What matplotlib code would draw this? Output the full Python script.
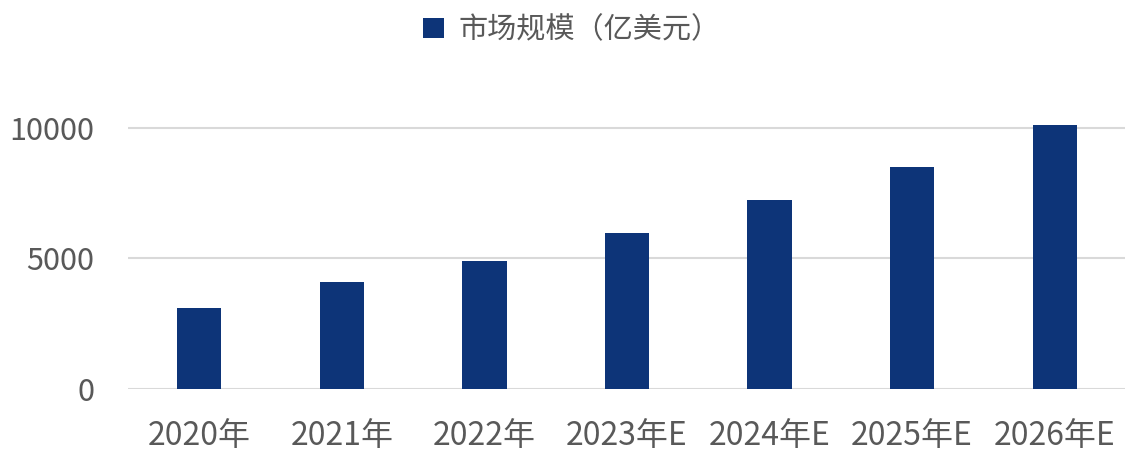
import numpy as np
import matplotlib
matplotlib.use("Agg")
from matplotlib import pyplot as plt

categories = ['2020年', '2021年', '2022年', '2023年E', '2024年E', '2025年E', '2026年E']
market_size = [3090, 4100, 4890, 5960, 7220, 8510, 10110]
series_name = '市场规模（亿美元）'
y_ticks = [0, 5000, 10000]

plt.rcParams['font.family'] = ['Noto Sans CJK SC', 'DejaVu Sans']
text_color = '#595959'
bar_color = '#0d3478'

fig = plt.figure(figsize=(11.25, 4.58), dpi=100)
ax = fig.add_axes([128 / 1125, 0.15, (1126 - 128) / 1125, 0.6284])

x = np.arange(len(categories))
ax.bar(x, market_size, width=0.31, color=bar_color, label=series_name, zorder=3)

ax.set_xlim(-0.5, len(categories) - 0.5)
ax.set_ylim(0, 11000)
ax.set_yticks(y_ticks)
ax.set_yticklabels([str(v) for v in y_ticks])
ax.set_xticks(x)
ax.set_xticklabels(categories)
ax.grid(axis='y', color='#d9d9d9', linewidth=1.5, zorder=0)
ax.tick_params(length=0, labelcolor=text_color)
ax.tick_params(axis='y', pad=24, labelsize=22)
ax.tick_params(axis='x', pad=22, labelsize=23)
for s in ax.spines.values():
    s.set_visible(False)

leg = fig.legend(loc='center', bbox_to_anchor=(572 / 1125, 1 - 30 / 458),
                 frameon=False, fontsize=21, handlelength=0.7, handleheight=0.7,
                 handletextpad=0.5)
for t in leg.get_texts():
    t.set_color(text_color)

fig.savefig('out.png', dpi=100)
